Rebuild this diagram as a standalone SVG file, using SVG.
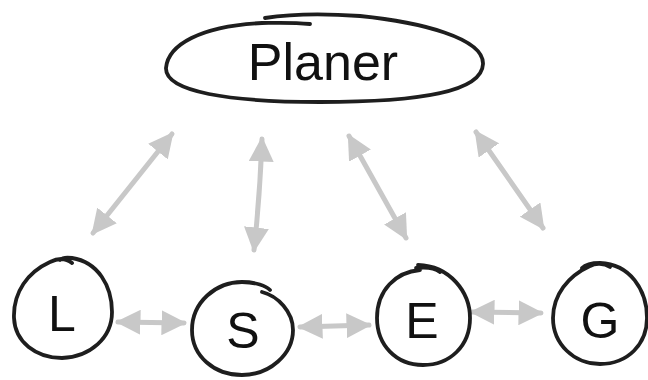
<svg xmlns="http://www.w3.org/2000/svg" width="648" height="380" viewBox="0 0 648 380">
<style>
.ink{fill:none;stroke:#1e1e1e;stroke-width:3.8;stroke-linecap:round;stroke-linejoin:round}
.lbl{font-family:"Liberation Sans",Arial,sans-serif;fill:#111;text-anchor:middle}
.arr{fill:none;stroke:#c8c8c8;stroke-width:5;stroke-linecap:round;marker-start:url(#ah);marker-end:url(#ah)}
</style>
<defs>
<marker id="ah" viewBox="0 0 10 10" refX="9" refY="5" markerWidth="5" markerHeight="5" orient="auto-start-reverse">
<path d="M0,0 L10,5 L0,10 z" fill="#c8c8c8"/>
</marker>
</defs>
<rect width="648" height="380" fill="#fff"/>
<g id="connectors">
<line class="arr" x1="172" y1="134" x2="93" y2="233"/>
<path class="arr" d="M262,139 Q260,195 254,250"/>
<line class="arr" x1="349" y1="136" x2="406" y2="238"/>
<line class="arr" x1="476" y1="132" x2="543" y2="228"/>
<line class="arr" x1="118" y1="322" x2="184" y2="323"/>
<line class="arr" x1="300" y1="327" x2="369" y2="325"/>
<line class="arr" x1="472" y1="312" x2="541" y2="313"/>
</g>
<g id="planer">
<path class="ink" d="M310,24 C290,22 270,23 262,23 C200,26 168,45 166,68 C165,92 230,102 320,102 C420,102 482,92 483,64 C484,38 420,22 360,16 C320,13 290,14 265,18"/>
<text class="lbl" x="323" y="80" font-size="52">Planer</text>
</g>
<g id="L">
<path class="ink" d="M72,263 C66,258 58,258 50,262 C28,272 13,292 14,318 C15,342 36,358 62,358 C90,357 112,338 112,312 C112,286 98,262 72,258 C66,257 62,258 60,260"/>
<text class="lbl" x="62" y="331" font-size="50">L</text>
</g>
<g id="S">
<path class="ink" d="M262,292 C278,296 293,312 293,330 C293,354 270,375 242,375 C214,375 192,356 192,330 C192,302 216,282 242,282 C256,282 266,286 270,290"/>
<text class="lbl" x="243" y="348" font-size="50">S</text>
</g>
<g id="E">
<path class="ink" d="M416,268 C425,267 435,268 440,272 M418,265 C450,266 470,292 470,318 C470,346 450,365 423,365 C396,365 377,345 377,318 C377,290 396,272 420,270"/>
<text class="lbl" x="422" y="338" font-size="50">E</text>
</g>
<g id="G">
<path class="ink" d="M610,267 C604,263 595,263 590,266 C568,276 553,295 553,318 C553,344 574,364 600,364 C628,364 647,344 647,318 C647,290 630,264 600,263 C592,263 585,265 582,268"/>
<text class="lbl" x="600" y="338" font-size="50">G</text>
</g>
</svg>
